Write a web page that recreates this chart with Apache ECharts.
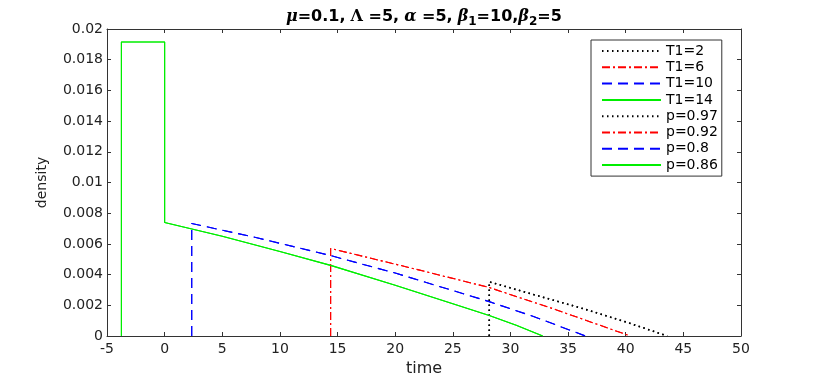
<!DOCTYPE html>
<html>
<head>
<meta charset="utf-8">
<script src="https://cdn.jsdelivr.net/npm/echarts@6/dist/echarts.min.js"></script>
<style>
  html, body { margin: 0; padding: 0; background: #fff; }
  #main { width: 817px; height: 382px; }
</style>
</head>
<body>
<div id="main"></div>
<script>
// axis ticks
var xTicks = { min: -5, max: 50, interval: 5 };
var yTicks = { min: 0, max: 0.02, interval: 0.002 };

// legend names
var namesT = ['T1=2', 'T1=6', 'T1=10', 'T1=14'];
var namesP = ['p=0.97', 'p=0.92', 'p=0.8', 'p=0.86'];

// curves (time, density)
var timeA = [28.16, 28.16, 32, 36, 40, 43.6];
var densA = [0, 0.00353, 0.0027, 0.00185, 0.00092, 0];

var timeB = [14.4, 14.4, 21, 28.16, 34, 40.4];
var densB = [0, 0.0057, 0.0045, 0.00316, 0.0017, 0];

var timeC = [2.35, 2.35, 8, 14.4, 20, 28.16, 32, 36.5];
var densC = [0, 0.00733, 0.0064, 0.00524, 0.0041, 0.00224, 0.00127, 0];

var timeD = [-3.75, -3.75, 0, 0, 5, 10, 14.4, 20, 25, 28.16, 30.5, 32.8];
var densD = [0, 0.01915, 0.01915, 0.0074, 0.0065, 0.0055, 0.0046, 0.0033, 0.0021, 0.00133, 0.0007, 0];

function pairs(t, d) {
    var out = [];
    for (var i = 0; i < t.length; i++) {
        out.push([t[i], d[i]]);
    }
    return out;
}

var styles = [
    { color: '#000000', width: 1.6, type: [1.5, 3.5] },
    { color: '#ff0000', width: 1.1, type: [8, 3, 2, 3] },
    { color: '#0000ff', width: 1.1, type: [10, 6] },
    { color: '#00ee00', width: 1.1, type: 'solid' }
];
var curves = [pairs(timeA, densA), pairs(timeB, densB), pairs(timeC, densC), pairs(timeD, densD)];

var series = [];
function addSeries(names) {
    for (var i = 0; i < names.length; i++) {
        series.push({
            name: names[i],
            type: 'line',
            data: curves[i],
            symbol: 'none',
            showSymbol: false,
            animation: false,
            silent: true,
            color: styles[i].color,
            lineStyle: { color: styles[i].color, width: styles[i].width, type: styles[i].type }
        });
    }
}
addSeries(namesT);
addSeries(namesP);

var font = 'DejaVu Sans';
var axisCol = '#333';

var myChart = echarts.init(document.getElementById('main'));
var option = {
    backgroundColor: '#fff',
    animation: false,
    title: {
        left: 281,
        top: 1,
        text: '{g|μ}{b|=0.1,} {n|Λ}{b| =5,} {g|α}{b| =5,} {g|β}{s|1}{b|=10,}{g|β}{s|2}{b|=5}',
        textStyle: {
            rich: {
                b: { fontFamily: font, fontWeight: 'bold', fontSize: 16, color: '#000' },
                g: { fontFamily: 'DejaVu Serif', fontStyle: 'italic', fontSize: 16, color: '#000' },
                n: { fontFamily: 'DejaVu Serif', fontSize: 16, color: '#000' },
                s: { fontFamily: font, fontWeight: 'bold', fontSize: 12, color: '#000', padding: [10, 0, 0, 0] }
            }
        }
    },
    legend: {
        orient: 'vertical',
        left: 591,
        top: 40,
        data: namesT.concat(namesP),
        itemWidth: 59,
        itemHeight: 14,
        itemGap: 2.3,
        padding: [4, 4, 4, 10],
        borderColor: axisCol,
        borderWidth: 1,
        backgroundColor: '#fff',
        selectedMode: false,
        itemStyle: { opacity: 0 },
        textStyle: { fontFamily: font, fontSize: 14, color: '#000' }
    },
    grid: { left: 107, right: 76, top: 29, bottom: 42, containLabel: false },
    xAxis: [{
        type: 'value',
        min: xTicks.min, max: xTicks.max, interval: xTicks.interval,
        name: 'time',
        nameLocation: 'middle',
        nameGap: 25,
        nameTextStyle: { fontFamily: font, fontSize: 16, color: '#222' },
        axisLine: { onZero: false, lineStyle: { color: axisCol, width: 1 } },
        axisTick: { inside: true, length: 4, lineStyle: { color: axisCol } },
        axisLabel: { fontFamily: font, fontSize: 14, color: '#222', margin: 6 },
        splitLine: { show: false }
    }, {
        type: 'value',
        position: 'top',
        min: xTicks.min, max: xTicks.max, interval: xTicks.interval,
        axisLine: { onZero: false, lineStyle: { color: axisCol, width: 1 } },
        axisTick: { inside: true, length: 4, lineStyle: { color: axisCol } },
        axisLabel: { show: false },
        splitLine: { show: false }
    }],
    yAxis: [{
        type: 'value',
        min: yTicks.min, max: yTicks.max, interval: yTicks.interval,
        name: 'density',
        nameLocation: 'middle',
        nameGap: 58,
        nameMoveOverlap: false,
        nameTextStyle: { fontFamily: font, fontSize: 14, color: '#222' },
        axisLine: { show: true, onZero: false, lineStyle: { color: axisCol, width: 1 } },
        axisTick: { show: true, inside: true, length: 4, lineStyle: { color: axisCol } },
        axisLabel: { fontFamily: font, fontSize: 14, color: '#222', margin: 4 },
        splitLine: { show: false }
    }, {
        type: 'value',
        position: 'right',
        min: yTicks.min, max: yTicks.max, interval: yTicks.interval,
        axisLine: { show: true, onZero: false, lineStyle: { color: axisCol, width: 1 } },
        axisTick: { show: true, inside: true, length: 4, lineStyle: { color: axisCol } },
        axisLabel: { show: false },
        splitLine: { show: false }
    }],
    series: series
};
myChart.setOption(option);
</script>
</body>
</html>
